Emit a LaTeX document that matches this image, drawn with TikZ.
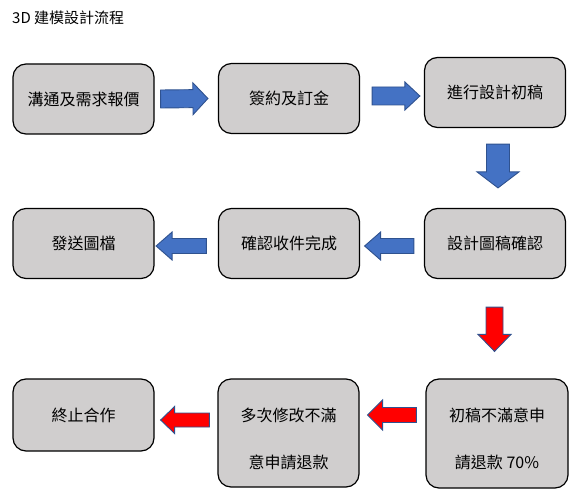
\documentclass[tikz,border=0pt]{standalone}
\usepackage{fontspec}
\setmainfont{Noto Sans CJK TC}
\usetikzlibrary{calc}
\definecolor{boxfill}{HTML}{D0CECE}
\definecolor{arrblue}{HTML}{4472C4}
\definecolor{arrline}{HTML}{2F528F}
\definecolor{arrred}{HTML}{FF0000}
\newcommand\blockarr[6]{%
  \coordinate (m) at ($(#3)!#6!(#2)$);
  \draw[#1] ($(#2)!#4!90:(#3)$) -- ($(m)!#4!90:(#3)$) -- ($(m)!#5!90:(#3)$)
    -- (#3) -- ($(m)!#5!-90:(#3)$) -- ($(m)!#4!-90:(#3)$) -- ($(#2)!#4!-90:(#3)$) -- cycle;
}
\begin{document}
\begin{tikzpicture}[x=1pt,y=-1pt,
  box/.style={draw=black, line width=1.2pt, fill=boxfill, rounded corners=13pt,
    minimum width=141pt, minimum height=70pt, inner sep=0pt,
    font=\fontsize{16}{19}\selectfont},
  lbl/.style={inner sep=0pt, font=\fontsize{16}{19}\selectfont},
  bluearr/.style={fill=arrblue, draw=arrline, line width=0.9pt},
  redarr/.style={fill=arrred, draw=arrline, line width=0.9pt}]
\useasboundingbox (0,0) rectangle (580,502);
\node[anchor=west, inner sep=0pt, font=\fontsize{15}{18}\selectfont] (title) at (12,18) {3D 建模設計流程};
% row 1
\node[box] (b1) at (83.5,99) {溝通及需求報價};
\node[box] (b2) at (289,98.5) {簽約及訂金};
\node[box] (b3) at (495,92.5) {進行設計初稿};
% row 2
\node[box] (c3) at (495,243.5) {設計圖稿確認};
\node[box] (c2) at (289,243.5) {確認收件完成};
\node[box] (c1) at (83.5,243.5) {發送圖檔};
% row 3
\node[box, minimum width=142pt, minimum height=109pt] (d3) at (497,433.5) {};
\node[lbl] (d3a) at ($(d3.center)+(0,-18.5)$) {初稿不滿意申};
\node[lbl] (d3b) at ($(d3.center)+(0,29.5)$) {請退款 70\%};
\node[box, minimum height=108pt] (d2) at (288.5,433) {};
\node[lbl] (d2a) at ($(d2.center)+(0,-18)$) {多次修改不滿};
\node[lbl] (d2b) at ($(d2.center)+(0,29)$) {意申請退款};
\node[box, minimum height=72pt] (d1) at (83.5,415) {終止合作};
% arrows
\coordinate (a1s) at ($(b1.east)+(6,0)$);
\coordinate (a1t) at ($(b2.west)+(-10,0)$);
\blockarr{bluearr}{a1s}{a1t}{9pt}{16pt}{15pt}
\coordinate (a2s) at ($(b2.east)+(12,-2.5)$);
\coordinate (a2t) at ($(b3.west)+(-4,3.5)$);
\blockarr{bluearr}{a2s}{a2t}{9pt}{14pt}{15pt}
\coordinate (a3s) at ($(b3.south)+(3,16)$);
\coordinate (a3t) at ($(c3.north)+(3,-20)$);
\blockarr{bluearr}{a3s}{a3t}{11.5pt}{21pt}{16pt}
\coordinate (a4s) at ($(c3.west)+(-10,2.5)$);
\coordinate (a4t) at ($(c2.east)+(4.5,2.5)$);
\blockarr{bluearr}{a4s}{a4t}{7.5pt}{14pt}{16pt}
\coordinate (a5s) at ($(c2.west)+(-11.5,2.5)$);
\coordinate (a5t) at ($(c1.east)+(1.5,2.5)$);
\blockarr{bluearr}{a5s}{a5t}{7.5pt}{14pt}{16pt}
\coordinate (a6s) at ($(c3.south)+(-0.5,28)$);
\coordinate (a6t) at ($(d3.north)+(-2.5,-27)$);
\blockarr{redarr}{a6s}{a6t}{8.5pt}{16.5pt}{17pt}
\coordinate (a7s) at ($(d3.west)+(-9,-18.5)$);
\coordinate (a7t) at ($(d2.east)+(8,-18)$);
\blockarr{redarr}{a7s}{a7t}{7.5pt}{15pt}{15pt}
\coordinate (a8s) at ($(d2.west)+(-8,-13)$);
\coordinate (a8t) at ($(d1.east)+(6,5)$);
\blockarr{redarr}{a8s}{a8t}{7pt}{13.5pt}{14pt}
\end{tikzpicture}
\end{document}
